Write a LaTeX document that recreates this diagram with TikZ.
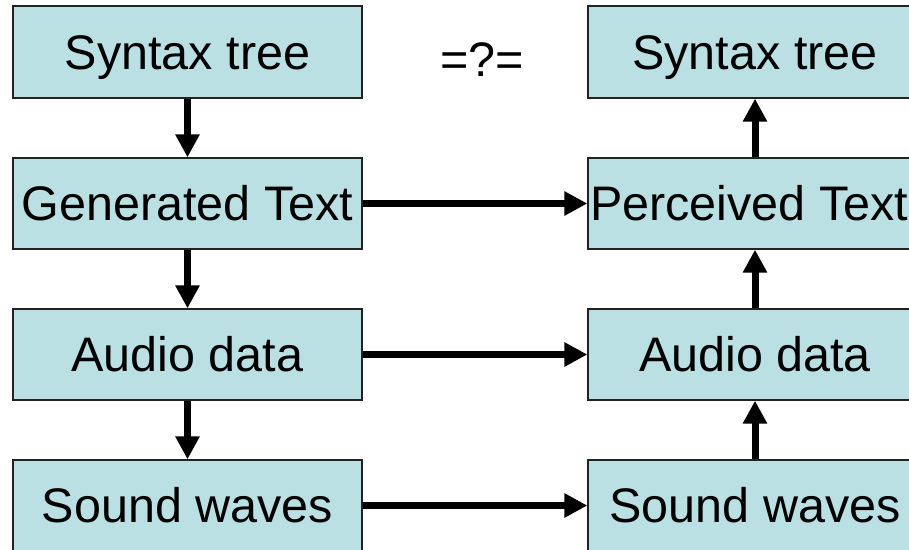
\documentclass[tikz,border=0pt]{standalone}
\usepackage{fontspec}
\setmainfont{Liberation Sans}
\usetikzlibrary{arrows.meta}
\definecolor{boxfill}{HTML}{BBE0E3}
\definecolor{boxline}{HTML}{222222}
\begin{document}
\begin{tikzpicture}[x=1pt,y=-1pt,
  big/.style={font=\fontsize{48.5}{58}\selectfont,text height=34.7pt,text depth=0pt},
  box/.style={draw=boxline,fill=boxfill,line width=1.3pt,rectangle,inner sep=0pt,
    minimum height=91pt,big},
  lbox/.style={box,minimum width=349pt},
  rbox/.style={box,minimum width=334pt},
  flow/.style={line width=7pt,-{Triangle[width=23pt,length=23pt]}}]
\useasboundingbox (0,0) rectangle (909,549);
\clip (0,0) rectangle (909,549);
\node[lbox,minimum height=92pt] (l1) at (187.5,52) {Syntax tree};
\node[lbox] (l2) at (187.5,203.5) {Generated Text};
\node[lbox] (l3) at (187.5,354.5) {Audio data};
\node[lbox] (l4) at (187.5,505.5) {Sound waves};
\node[rbox,minimum height=92pt] (r1) at (755,52) {Syntax tree};
\node[rbox] (r2) at (755,203.5) {};
\node[big,anchor=west,inner sep=0pt] (r2t) at (590,203.5) {Perceived Text};
\node[rbox] (r3) at (755,354.5) {Audio data};
\node[rbox] (r4) at (755,505.5) {Sound waves};
\node[big,inner sep=0pt] (eq) at (482,59.5) {=?=};
\draw[flow] (l1) -- (l2);
\draw[flow] (l2) -- (l3);
\draw[flow] (l3) -- (l4);
\draw[flow] (r4) -- (r3);
\draw[flow] (r3) -- (r2);
\draw[flow] (r2) -- (r1);
\draw[flow] (l2.east) -- (r2.west);
\draw[flow] (l3.east) -- (r3.west);
\draw[flow] (l4.east) -- (r4.west);
\end{tikzpicture}
\end{document}
